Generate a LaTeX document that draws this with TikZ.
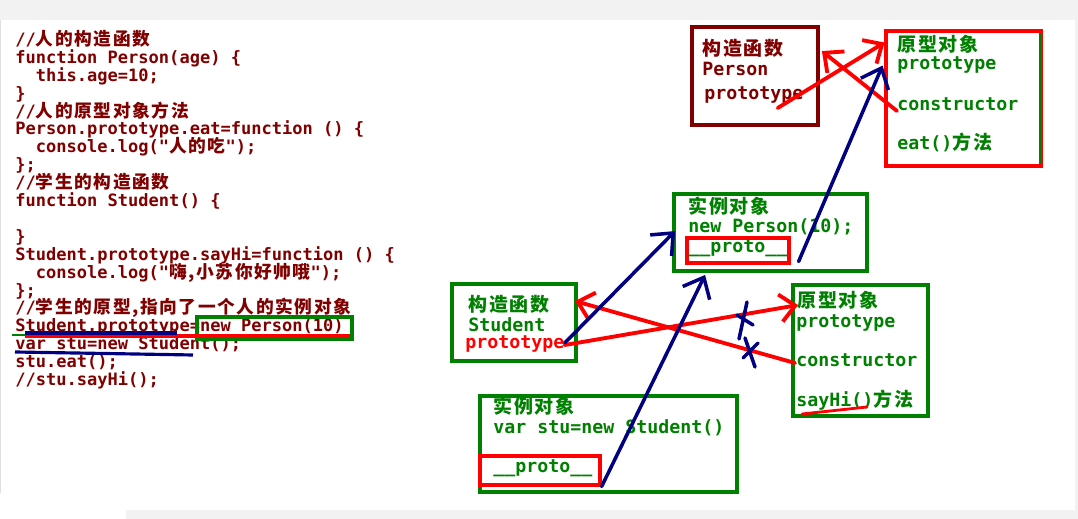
\documentclass[tikz,border=0pt]{standalone}
\usepackage{fontspec}
\usetikzlibrary{arrows.meta, fit}
\newfontfamily\codefont{DejaVu Sans Mono}
\newfontfamily\cjk{Noto Sans CJK SC}[Scale=1.04, LetterSpace=9]
\newcommand\zh[1]{{\cjk #1}}
\definecolor{codered}{RGB}{128,0,0}
\definecolor{boxgreen}{RGB}{0,128,0}
\definecolor{penred}{RGB}{255,0,0}
\definecolor{penblue}{RGB}{0,0,128}
\definecolor{pagegray}{RGB}{242,242,242}
\tikzset{
  codeline/.style={anchor=base west, inner sep=0pt, text=codered,
    text height=7pt, text depth=2pt,
    font=\codefont\bfseries\fontsize{9.7pt}{11pt}\selectfont},
  boxtext/.style={anchor=base west, inner sep=0pt, text=boxgreen,
    text height=7.5pt, text depth=2pt,
    font=\codefont\bfseries\fontsize{10.4pt}{12pt}\selectfont},
  gbox/.style={draw=boxgreen, line width=2.2pt, inner sep=0pt},
  rbox/.style={draw=penred, line width=1.8pt, inner sep=0pt},
  redpen/.style={draw=penred, line width=2.2pt, line cap=round,
    -{Straight Barb[length=3mm, width=5.5mm]}},
  bluepen/.style={draw=penblue, line width=2pt, line cap=round,
    -{Straight Barb[length=3.5mm, width=6mm]}},
  crossmark/.style={draw=penblue, line width=2pt, line cap=round}
}
\begin{document}
\begin{tikzpicture}[x=0.02cm, y=-0.02cm]
  \useasboundingbox (0,0) rectangle (1078,519);
  % page background
  \fill[white] (0,0) rectangle (1078,519);
  \fill[pagegray] (0,0) rectangle (1078,20);
  \fill[pagegray] (1075,0) rectangle (1078,519);
  \fill[pagegray] (126,510) rectangle (1078,519);
  \fill[black!12] (0,20) rectangle (1,493);

  % source code
  \foreach \ln [count=\i] in {
    {//\zh{人的构造函数}},
    {function Person(age) \{},
    {\ \ this.age=10;},
    {\}},
    {//\zh{人的原型对象方法}},
    {Person.prototype.eat=function () \{},
    {\ \ console.log("\zh{人的吃}");},
    {\};},
    {//\zh{学生的构造函数}},
    {function Student() \{},
    {},
    {\}},
    {Student.prototype.sayHi=function () \{},
    {\ \ console.log("\zh{嗨,小苏你好帅哦}");},
    {\};},
    {//\zh{学生的原型,指向了一个人的实例对象}},
    {Student.prototype=new Person(10)},
    {var stu=new Student();},
    {stu.eat();},
    {//stu.sayHi();}}
    \node[codeline] (code\i) at (15,{45.5+17.9*(\i-1)}) {\ln};

  % marks on the code
  \draw[boxgreen, line width=1.8pt] (197,317) rectangle (352,339);
  \draw[penred, line width=1.8pt] (25,336) -- (350,336);
  \draw[penblue, line width=1.8pt] (25,333) -- (177,333);
  \draw[boxgreen, line width=1.5pt] (12,335) -- (25,335);
  \draw[penblue, line width=1.8pt] (15,352) -- (75,353) -- (135,354) -- (193,355);

  % Person constructor
  \node[gbox, draw=codered, fit={(692,27) (818,125)}] (pcon) {};
  \node[boxtext, text=codered] (pconT) at (702,56) {\zh{构造函数}};
  \node[boxtext, text=codered] (pconN) at (702,76) {Person};
  \node[boxtext, text=codered] (pconP) at (704,100) {prototype};

  % Person prototype object
  \node[gbox, draw=penred, line width=2.8pt, fit={(886,31) (1041,166)}] (pobj) {};
  \draw[boxgreen, line width=1pt] ([shift={(-3,4)}]pobj.north east) -- ([shift={(-3,-4)}]pobj.south east);
  \node[boxtext] (pobjT) at (897,52) {\zh{原型对象}};
  \node[boxtext] (pobjP) at (897,70) {prototype};
  \node[boxtext] (pobjC) at (897,111) {constructor};
  \node[boxtext] (pobjE) at (897,150) {eat()\zh{方法}};

  % instance new Person(10)
  \node[gbox, fit={(674,194) (867,271)}] (pinst) {};
  \node[boxtext] (pinstT) at (688,214) {\zh{实例对象}};
  \node[boxtext] (pinstN) at (688,233) {new Person(10);};
  \node[rbox, fit={(687,238) (789,263)}] (pprbox) {};
  \node[boxtext] (ppr) at (688,253) {\_\_proto\_\_};

  % Student constructor
  \node[gbox, fit={(452,284) (576,361)}] (scon) {};
  \node[boxtext] (sconT) at (468,312) {\zh{构造函数}};
  \node[boxtext] (sconN) at (468,332) {Student};
  \node[boxtext, text=penred] (sconP) at (465,349) {prototype};

  % Student prototype object
  \node[gbox, fit={(793,285) (928,416)}] (sobj) {};
  \node[boxtext] (sobjT) at (797,308) {\zh{原型对象}};
  \node[boxtext] (sobjP) at (796,328) {prototype};
  \node[boxtext] (sobjC) at (796,367) {constructor};
  \node[boxtext] (sobjS) at (796,407) {sayHi()\zh{方法}};
  \draw[penred, line width=1.6pt, line cap=round] (802,414) .. controls (830,411) .. (867,407);

  % instance stu
  \node[gbox, fit={(480,396) (737,492)}] (sinst) {};
  \node[boxtext] (sinstT) at (493,414) {\zh{实例对象}};
  \node[boxtext] (sinstN) at (493,434) {var stu=new Student()};
  \node[rbox, fit={(480,456) (600,485)}] (sprbox) {};
  \node[boxtext] (spr) at (493,473) {\_\_proto\_\_};

  % prototype / constructor links
  \draw[redpen] ([shift={(-26,8)}]pconP.base east) -- ([shift={(1,14)}]pobj.north west);
  \draw[redpen] (pobjC.base west) -- ([shift={(2,26)}]pcon.north east);
  \draw[redpen] ([shift={(0,-4)}]sconP.base east) -- ([shift={(7,22)}]sobj.north west);
  \draw[redpen] ([shift={(-1,-4)}]sobjC.base west) -- ([shift={(-3,19)}]scon.north east);

  % __proto__ chain
  \draw[bluepen] (sprbox.south east) -- ([shift={(33,2)}]pinst.south west);
  \draw[bluepen] ([shift={(0,-6)}]sconP.base east) -- ([shift={(3,39)}]pinst.north west);
  \draw[bluepen] ([shift={(8,-3)}]pprbox.south east) -- ([shift={(-1,37)}]pobj.north west);

  % crossed out links
  \draw[crossmark] (747,302) -- (739,339) (737,315) -- (753,325);
  \draw[crossmark] (745,338) -- (755,367) (743,358) -- (758,343);
\end{tikzpicture}
\end{document}
